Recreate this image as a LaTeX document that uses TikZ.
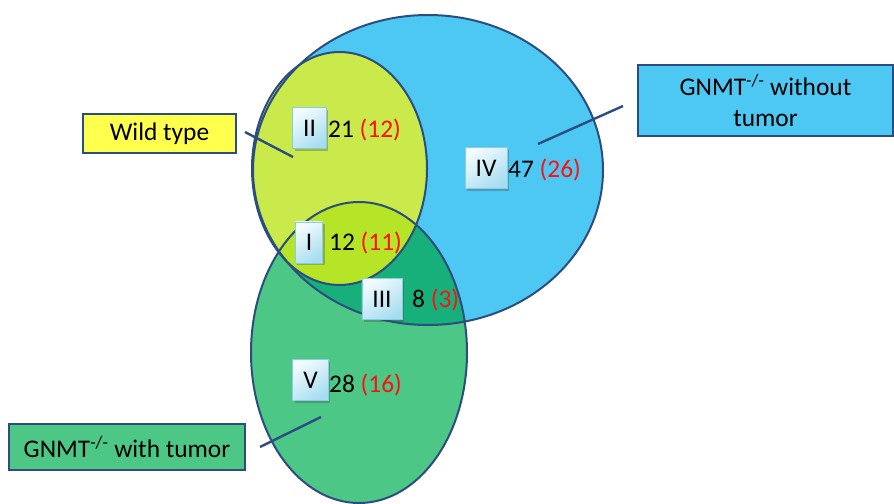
\documentclass[tikz,border=0pt]{standalone}
\usepackage{fontspec}
\setmainfont{Carlito}
\usetikzlibrary{shadows}

\definecolor{rim}{HTML}{2B4D80}
\definecolor{skyfill}{HTML}{4DC8F2}
\definecolor{limefill}{HTML}{C9EA4A}
\definecolor{limebright}{HTML}{B6E426}
\definecolor{leaf}{HTML}{4CC785}
\definecolor{tealfill}{HTML}{17B07B}
\definecolor{tagyellow}{HTML}{FFFF4D}
\definecolor{boxlight}{HTML}{F2FBFE}
\definecolor{boxdark}{HTML}{A8DDF1}
\definecolor{boxedge}{HTML}{86CDE6}
\definecolor{countred}{HTML}{FF1010}

% the three sets
\def\setNoTumor{(428,170) ellipse [x radius=175, y radius=155]}
\def\setWild{(339.5,168.5) ellipse [x radius=87.5, y radius=116.5]}
\def\setTumor{(359,352.5) ellipse [x radius=108, y radius=150.5]}

\tikzset{
  rimline/.style={draw=rim, line width=2bp},
  tagbox/.style={draw=rim, line width=2.2bp, inner sep=0, align=center},
  numbox/.style={draw=boxedge, line width=0.8bp, top color=boxlight, bottom color=boxdark,
    shading angle=35, inner xsep=10.5bp, inner ysep=0, minimum height=41bp,
    drop shadow={shadow xshift=2bp, shadow yshift=-2.5bp, opacity=0.35, fill=black!70}},
  count/.style={anchor=west, inner sep=0},
  lead/.style={draw=rim, line width=2.4bp},
}

\begin{document}
\begin{tikzpicture}[x=1bp, y=-1bp, font=\fontsize{25.5}{31}\selectfont]
\useasboundingbox (0,0) rectangle (894,504);

% set fills
\fill[skyfill] \setNoTumor;
\fill[leaf] \setTumor;
\begin{scope}
  \clip \setTumor;
  \fill[tealfill] \setNoTumor;
\end{scope}
\fill[limefill] \setWild;
\begin{scope}
  \clip \setWild;
  \fill[limebright] \setTumor;
\end{scope}

% set outlines
\path[rimline] \setNoTumor;
\path[rimline] \setWild;
\path[rimline] \setTumor;

% region tags and counts
\node[numbox] (rII) at (309.5,128) {II};
\node[count] (cII) at (328,130) {21 {\color{countred}(12)}};
\node[numbox] (rI) at (309,242.5) {I};
\node[count] (cI) at (329,243) {12 {\color{countred}(11)}};
\node[numbox] (rIII) at (382,299) {III};
\node[count] (cIII) at (412,300) {8 {\color{countred}(3)}};
\node[numbox] (rIV) at (486,168) {IV};
\node[count] (cIV) at (508,170) {47 {\color{countred}(26)}};
\node[numbox] (rV) at (310.5,380) {V};
\node[count] (cV) at (329,385) {28 {\color{countred}(16)}};

% set labels
\node[tagbox, fill=tagyellow, minimum width=153bp, minimum height=39bp] (wild) at (159.5,133.5) {Wild type};
\node[tagbox, fill=skyfill, minimum width=255bp, minimum height=71bp] (notumor) at (765.5,100.5)
  {GNMT\textsuperscript{-/-} without\\tumor};
\node[tagbox, fill=leaf, minimum width=236bp, minimum height=46bp] (tumor) at (127,447)
  {GNMT\textsuperscript{-/-} with tumor};

% leader lines
\coordinate (wildA) at (245,132);
\coordinate (wildB) at (293,157);
\coordinate (notumorA) at (623,106);
\coordinate (notumorB) at (538,144);
\coordinate (tumorA) at (260,447);
\coordinate (tumorB) at (321,417);
\draw[lead] (wildA) -- (wildB);
\draw[lead] (notumorA) -- (notumorB);
\draw[lead] (tumorA) -- (tumorB);
\end{tikzpicture}
\end{document}
